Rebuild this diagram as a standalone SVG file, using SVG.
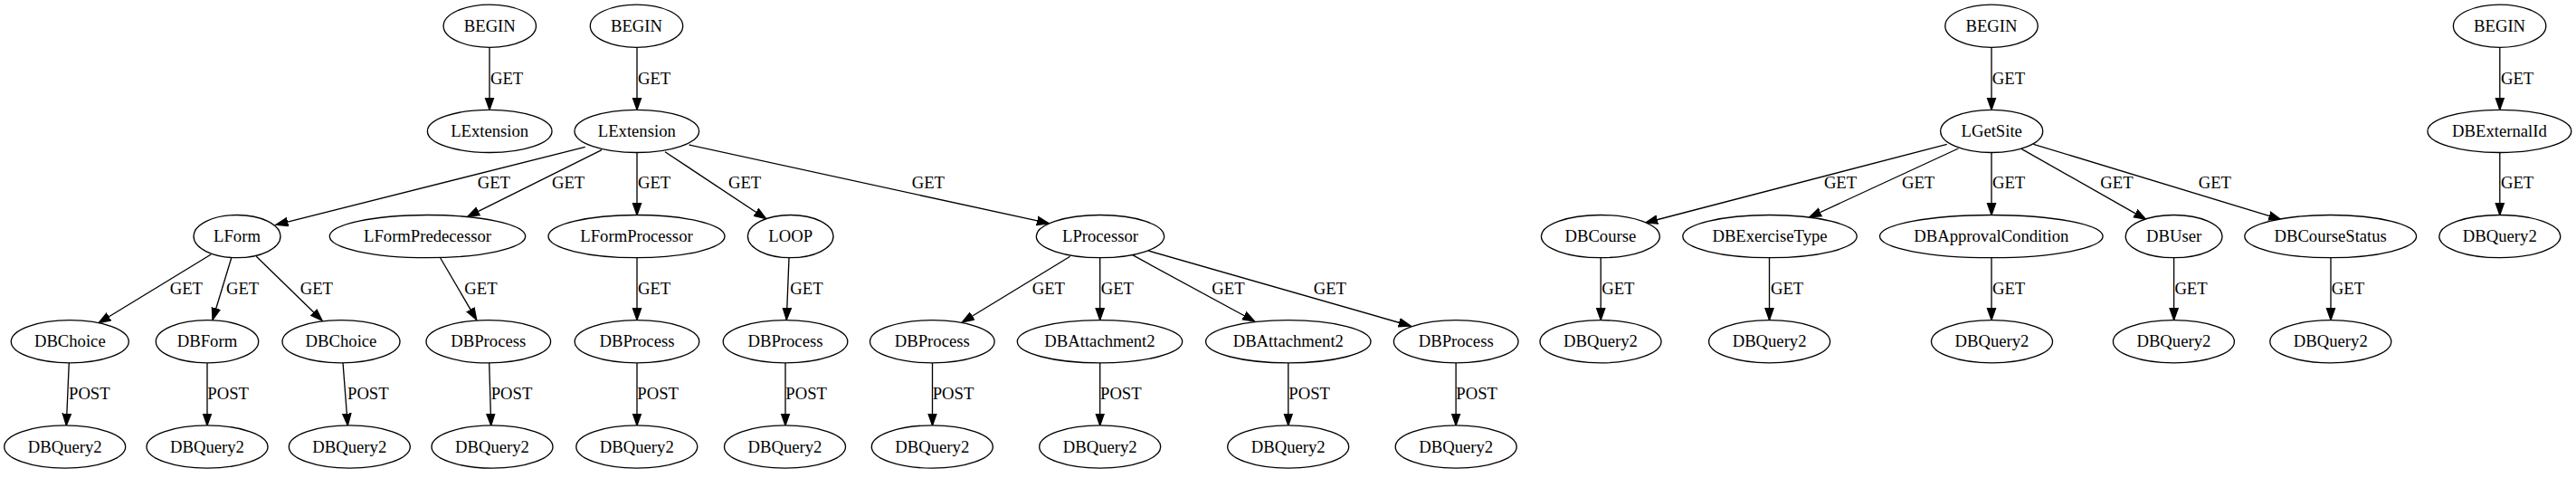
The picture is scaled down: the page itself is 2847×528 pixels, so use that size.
<svg xmlns="http://www.w3.org/2000/svg" width="2847" height="528" viewBox="0 0 2847 528">
<style>
.n ellipse{fill:#fff;stroke:#000;stroke-width:1.33}
.n text{font-family:"Liberation Serif","Times New Roman",serif;font-size:18.67px;text-anchor:middle;fill:#000}
#edges path{fill:none;stroke:#000;stroke-width:1.33;marker-end:url(#a)}
#edges text{font-family:"Liberation Serif","Times New Roman",serif;font-size:18.67px;fill:#000}
</style>
<defs>
<marker id="a" markerUnits="userSpaceOnUse" markerWidth="16" markerHeight="12" viewBox="0 -6 16 12" refX="13.33" refY="0" orient="auto"><path d="M0,-4.67L13.33,0L0,4.67z" fill="#000" stroke="#000" stroke-width="1.33"/></marker>
</defs>
<rect width="2847" height="528" fill="#fff"/>
<g id="edges">
<path d="M541,52.3V121.3"/><text x="542" y="92.5">GET</text>
<path d="M704,52.3V121.3"/><text x="705" y="92.5">GET</text>
<path d="M646.7,162.3L305,248.3"/><text x="527.7" y="208.3">GET</text>
<path d="M665,165.7L516.7,239.3"/><text x="610" y="208.3">GET</text>
<path d="M704,168.4V237.6"/><text x="705" y="208.3">GET</text>
<path d="M735,167.7L846.7,241.7"/><text x="805" y="208.3">GET</text>
<path d="M761.7,160L1159.3,246.7"/><text x="1007.7" y="208.3">GET</text>
<path d="M233.3,281L109,356.7"/><text x="187.7" y="324.8">GET</text>
<path d="M255.7,285L235,353.3"/><text x="250" y="324.8">GET</text>
<path d="M283.3,283.3L356,354"/><text x="331.7" y="324.8">GET</text>
<path d="M486.7,285L526.7,353.3"/><text x="513.3" y="324.8">GET</text>
<path d="M704,284.6V353.6"/><text x="705" y="324.8">GET</text>
<path d="M872,285L869.3,353.3"/><text x="873.3" y="324.8">GET</text>
<path d="M1182.7,283.3L1063.3,356"/><text x="1140.7" y="324.8">GET</text>
<path d="M1215.7,284.6V353.6"/><text x="1216.7" y="324.8">GET</text>
<path d="M1251.7,281.7L1386.7,355"/><text x="1339.3" y="324.8">GET</text>
<path d="M1268.3,276.7L1559,360"/><text x="1451.7" y="324.8">GET</text>
<path d="M76.3,400.8L73.3,470"/><text x="76" y="441.3">POST</text>
<path d="M229,400.8V470"/><text x="229.3" y="441.3">POST</text>
<path d="M379,400.8L384.3,470"/><text x="384" y="441.3">POST</text>
<path d="M540.7,400.8L542.7,470"/><text x="542.7" y="441.3">POST</text>
<path d="M704,400.8V470"/><text x="704.3" y="441.3">POST</text>
<path d="M868,400.8V470"/><text x="868.3" y="441.3">POST</text>
<path d="M1030.5,400.8V470"/><text x="1030.7" y="441.3">POST</text>
<path d="M1215.7,400.8V470"/><text x="1216" y="441.3">POST</text>
<path d="M1423.8,400.8V470"/><text x="1424.3" y="441.3">POST</text>
<path d="M1609.1,400.8V470"/><text x="1609.3" y="441.3">POST</text>
<path d="M2201,52.3V121.3"/><text x="2201.8" y="92.5">GET</text>
<path d="M2151.8,159.3L1818.8,246"/><text x="2015.9" y="208.3">GET</text>
<path d="M2164.4,164L1999.8,240"/><text x="2102" y="208.3">GET</text>
<path d="M2201,168.4V237.6"/><text x="2202" y="208.3">GET</text>
<path d="M2234,164.3L2371.6,242.3"/><text x="2321.3" y="208.3">GET</text>
<path d="M2247.4,159.3L2520.7,242.3"/><text x="2429.7" y="208.3">GET</text>
<path d="M1769.2,284.6V353.6"/><text x="1770.2" y="324.8">GET</text>
<path d="M1955.5,284.6V353.6"/><text x="1957" y="324.8">GET</text>
<path d="M2201,284.6V353.6"/><text x="2202" y="324.8">GET</text>
<path d="M2402.6,284.6V353.6"/><text x="2403.4" y="324.8">GET</text>
<path d="M2576,284.6V353.6"/><text x="2576.8" y="324.8">GET</text>
<path d="M2762.8,52.3V121.3"/><text x="2764" y="92.5">GET</text>
<path d="M2762.8,168.4V237.6"/><text x="2764" y="208.3">GET</text>
</g>
<g id="begin1" class="n"><ellipse cx="541.3" cy="28.7" rx="51.2" ry="23.6"/><text x="541.3" y="34.7">BEGIN</text></g>
<g id="begin2" class="n"><ellipse cx="703.5" cy="28.7" rx="51.2" ry="23.6"/><text x="703.5" y="34.7">BEGIN</text></g>
<g id="begin3" class="n"><ellipse cx="2201" cy="28.7" rx="51.2" ry="23.6"/><text x="2201" y="34.7">BEGIN</text></g>
<g id="begin4" class="n"><ellipse cx="2762.6" cy="28.7" rx="51.2" ry="23.6"/><text x="2762.6" y="34.7">BEGIN</text></g>
<g id="lextension1" class="n"><ellipse cx="541.2" cy="144.9" rx="68.8" ry="23.6"/><text x="541.2" y="150.9">LExtension</text></g>
<g id="lextension2" class="n"><ellipse cx="703.8" cy="144.9" rx="68.8" ry="23.6"/><text x="703.8" y="150.9">LExtension</text></g>
<g id="lgetsite" class="n"><ellipse cx="2201.2" cy="144.9" rx="56.5" ry="23.6"/><text x="2201.2" y="150.9">LGetSite</text></g>
<g id="dbexternalid" class="n"><ellipse cx="2762.4" cy="144.9" rx="79.4" ry="23.6"/><text x="2762.4" y="150.9">DBExternalId</text></g>
<g id="lform" class="n"><ellipse cx="262" cy="261.1" rx="48" ry="23.6"/><text x="262" y="267.1">LForm</text></g>
<g id="lformpredecessor" class="n"><ellipse cx="472.5" cy="261.1" rx="108.2" ry="23.6"/><text x="472.5" y="267.1">LFormPredecessor</text></g>
<g id="lformprocessor" class="n"><ellipse cx="703.5" cy="261.1" rx="97.5" ry="23.6"/><text x="703.5" y="267.1">LFormProcessor</text></g>
<g id="loop" class="n"><ellipse cx="873.7" cy="261.1" rx="47.3" ry="23.6"/><text x="873.7" y="267.1">LOOP</text></g>
<g id="lprocessor" class="n"><ellipse cx="1216" cy="261.1" rx="70.7" ry="23.6"/><text x="1216" y="267.1">LProcessor</text></g>
<g id="dbcourse" class="n"><ellipse cx="1768.9" cy="261.1" rx="65.5" ry="23.6"/><text x="1768.9" y="267.1">DBCourse</text></g>
<g id="dbexercisetype" class="n"><ellipse cx="1956" cy="261.1" rx="96.2" ry="23.6"/><text x="1956" y="267.1">DBExerciseType</text></g>
<g id="dbapprovalcondition" class="n"><ellipse cx="2200.8" cy="261.1" rx="123.3" ry="23.6"/><text x="2200.8" y="267.1">DBApprovalCondition</text></g>
<g id="dbuser" class="n"><ellipse cx="2402.6" cy="261.1" rx="53.4" ry="23.6"/><text x="2402.6" y="267.1">DBUser</text></g>
<g id="dbcoursestatus" class="n"><ellipse cx="2575.7" cy="261.1" rx="94.9" ry="23.6"/><text x="2575.7" y="267.1">DBCourseStatus</text></g>
<g id="dbquery2_ext" class="n"><ellipse cx="2762.8" cy="261.1" rx="67" ry="23.6"/><text x="2762.8" y="267.1">DBQuery2</text></g>
<g id="dbchoice1" class="n"><ellipse cx="77.3" cy="377.3" rx="65" ry="23.6"/><text x="77.3" y="383.3">DBChoice</text></g>
<g id="dbform" class="n"><ellipse cx="229" cy="377.3" rx="56.7" ry="23.6"/><text x="229" y="383.3">DBForm</text></g>
<g id="dbchoice2" class="n"><ellipse cx="377" cy="377.3" rx="65" ry="23.6"/><text x="377" y="383.3">DBChoice</text></g>
<g id="dbprocess1" class="n"><ellipse cx="539.8" cy="377.3" rx="68.8" ry="23.6"/><text x="539.8" y="383.3">DBProcess</text></g>
<g id="dbprocess2" class="n"><ellipse cx="704" cy="377.3" rx="68.8" ry="23.6"/><text x="704" y="383.3">DBProcess</text></g>
<g id="dbprocess3" class="n"><ellipse cx="868" cy="377.3" rx="68.8" ry="23.6"/><text x="868" y="383.3">DBProcess</text></g>
<g id="dbprocess4" class="n"><ellipse cx="1030.3" cy="377.3" rx="68.8" ry="23.6"/><text x="1030.3" y="383.3">DBProcess</text></g>
<g id="dbattachment2_1" class="n"><ellipse cx="1215.5" cy="377.3" rx="91.2" ry="23.6"/><text x="1215.5" y="383.3">DBAttachment2</text></g>
<g id="dbattachment2_2" class="n"><ellipse cx="1423.8" cy="377.3" rx="91.2" ry="23.6"/><text x="1423.8" y="383.3">DBAttachment2</text></g>
<g id="dbprocess5" class="n"><ellipse cx="1609.2" cy="377.3" rx="68.8" ry="23.6"/><text x="1609.2" y="383.3">DBProcess</text></g>
<g id="dbquery2_course" class="n"><ellipse cx="1769" cy="377.3" rx="67" ry="23.6"/><text x="1769" y="383.3">DBQuery2</text></g>
<g id="dbquery2_extype" class="n"><ellipse cx="1955.6" cy="377.3" rx="67" ry="23.6"/><text x="1955.6" y="383.3">DBQuery2</text></g>
<g id="dbquery2_approval" class="n"><ellipse cx="2201.5" cy="377.3" rx="67" ry="23.6"/><text x="2201.5" y="383.3">DBQuery2</text></g>
<g id="dbquery2_user" class="n"><ellipse cx="2402.4" cy="377.3" rx="67" ry="23.6"/><text x="2402.4" y="383.3">DBQuery2</text></g>
<g id="dbquery2_status" class="n"><ellipse cx="2575.8" cy="377.3" rx="67" ry="23.6"/><text x="2575.8" y="383.3">DBQuery2</text></g>
<g id="dbquery2_1" class="n"><ellipse cx="71.7" cy="493.5" rx="67" ry="23.6"/><text x="71.7" y="499.5">DBQuery2</text></g>
<g id="dbquery2_2" class="n"><ellipse cx="229" cy="493.5" rx="67" ry="23.6"/><text x="229" y="499.5">DBQuery2</text></g>
<g id="dbquery2_3" class="n"><ellipse cx="386.3" cy="493.5" rx="67" ry="23.6"/><text x="386.3" y="499.5">DBQuery2</text></g>
<g id="dbquery2_4" class="n"><ellipse cx="544" cy="493.5" rx="67" ry="23.6"/><text x="544" y="499.5">DBQuery2</text></g>
<g id="dbquery2_5" class="n"><ellipse cx="703.8" cy="493.5" rx="67" ry="23.6"/><text x="703.8" y="499.5">DBQuery2</text></g>
<g id="dbquery2_6" class="n"><ellipse cx="867.5" cy="493.5" rx="67" ry="23.6"/><text x="867.5" y="499.5">DBQuery2</text></g>
<g id="dbquery2_7" class="n"><ellipse cx="1030.3" cy="493.5" rx="67" ry="23.6"/><text x="1030.3" y="499.5">DBQuery2</text></g>
<g id="dbquery2_8" class="n"><ellipse cx="1215.7" cy="493.5" rx="67" ry="23.6"/><text x="1215.7" y="499.5">DBQuery2</text></g>
<g id="dbquery2_9" class="n"><ellipse cx="1423.7" cy="493.5" rx="67" ry="23.6"/><text x="1423.7" y="499.5">DBQuery2</text></g>
<g id="dbquery2_10" class="n"><ellipse cx="1609.2" cy="493.5" rx="67" ry="23.6"/><text x="1609.2" y="499.5">DBQuery2</text></g>
</svg>
